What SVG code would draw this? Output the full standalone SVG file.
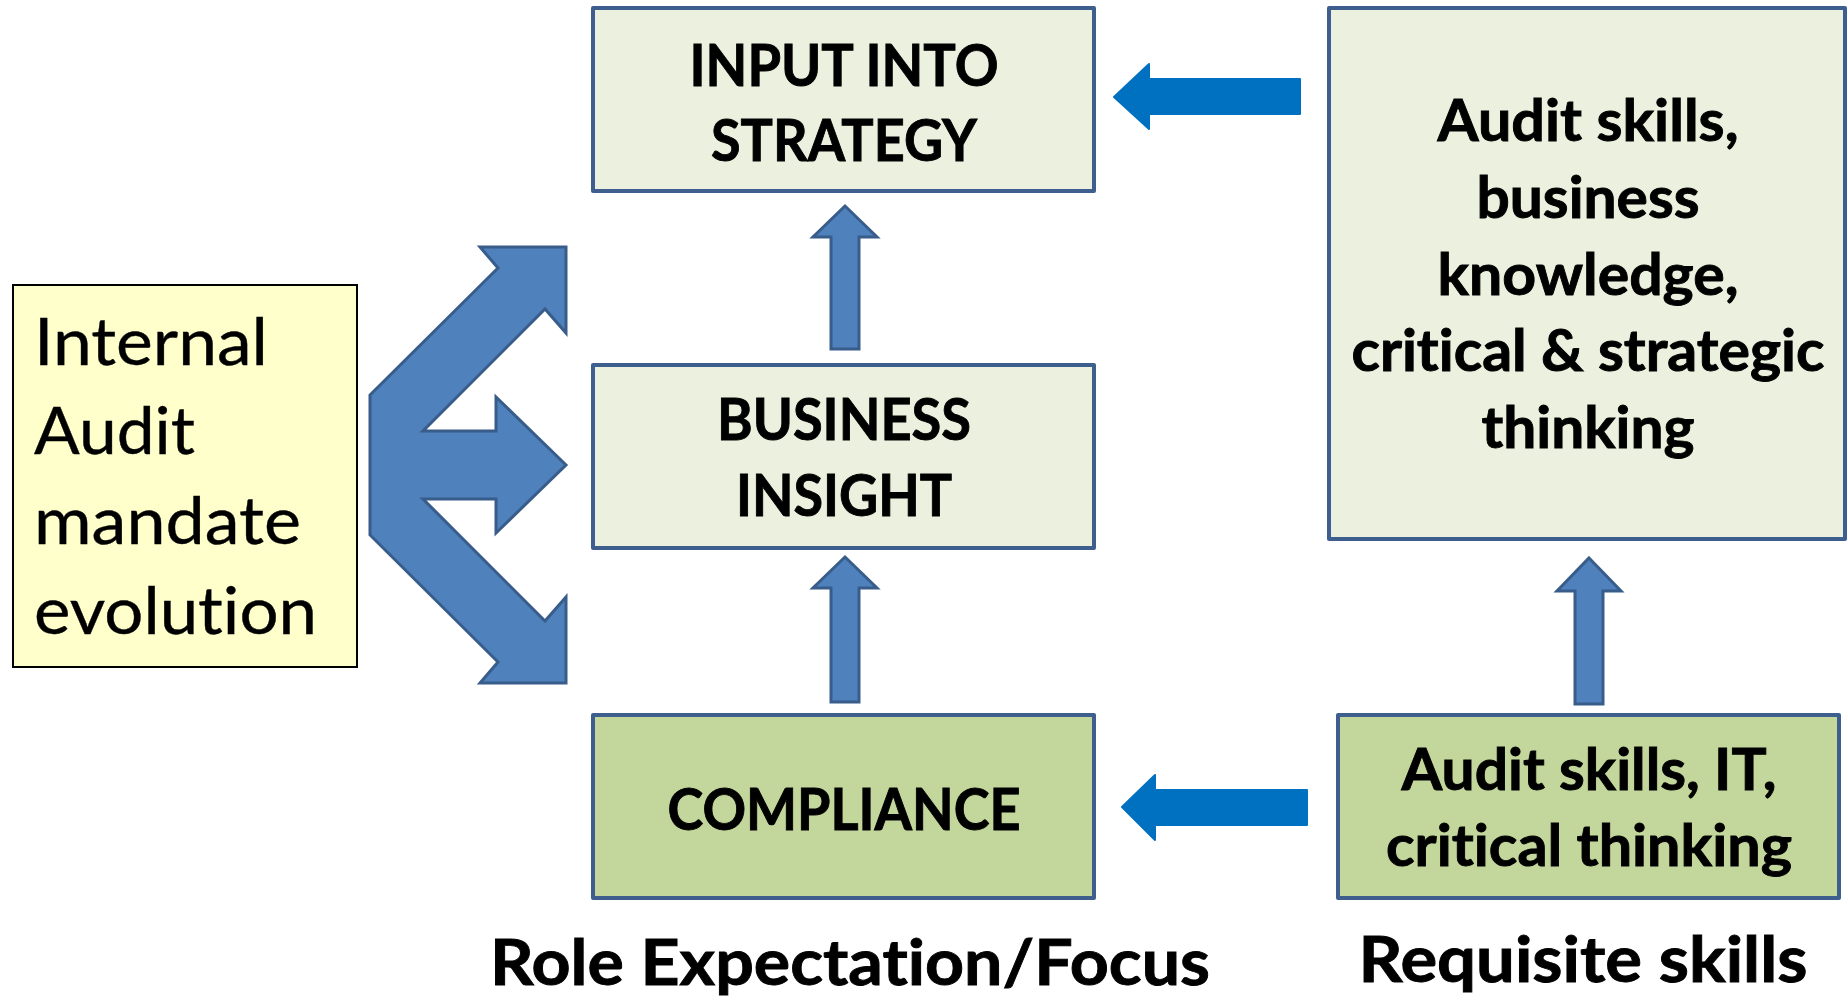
<svg xmlns="http://www.w3.org/2000/svg" width="1848" height="997" viewBox="0 0 1848 997">
  <style>
    .box { stroke: #3E5F8E; stroke-width: 4; stroke-linejoin: round; }
    .pale { fill: #EBF1DE; }
    .green { fill: #C3D69B; }
    .note { fill: #FFFFCC; stroke: #000000; stroke-width: 2; }
    text { font-variant-ligatures: none; font-feature-settings: "liga" 0, "clig" 0; }
    .lbl { font-family: Lato, "Open Sans", "Liberation Sans", sans-serif; font-weight: 700; fill: #000000; stroke: #000000; stroke-width: 0.9; text-anchor: middle; }
    .big { font-size: 57px; }
    .cap { font-size: 64px; }
    .plain { font-family: Lato, "Open Sans", "Liberation Sans", sans-serif; font-weight: 400; font-size: 66px; fill: #000000; stroke: #000000; stroke-width: 0.4; }
    .flow { fill: #4F81BD; stroke: #385D8A; stroke-width: 3; stroke-linejoin: miter; }
    .push { fill: #0070C0; stroke: #0070C0; stroke-width: 2; stroke-linejoin: round; }
  </style>

  <rect width="1848" height="997" fill="#FFFFFF"/>

  <!-- connectors -->
  <g id="connectors">
    <!-- three-way arrow from the mandate box to each role level -->
    <path class="flow" d="M370,395 L498,268 L480,247 L566,247 L566,333 L545,309 L423,431 L496,431 L496,397 L566,465 L496,533 L496,499 L423,499 L545,621 L566,597 L566,683 L480,683 L498,662 L370,535 Z"/>
    <!-- compliance -> business insight -> strategy -->
    <path class="flow" d="M845,206 L877,237 L859,237 L859,349 L831,349 L831,237 L813,237 Z"/>
    <path class="flow" d="M845,557 L877,588 L859,588 L859,702 L831,702 L831,588 L813,588 Z"/>
    <!-- basic skills -> advanced skills -->
    <path class="flow" d="M1589,558 L1621,591 L1603,591 L1603,704 L1575,704 L1575,591 L1557,591 Z"/>
    <!-- skills feeding the role levels -->
    <path class="push" d="M1114,97 L1149,64 L1149,79 L1300,79 L1300,114 L1149,114 L1149,129 Z"/>
    <path class="push" d="M1122,807 L1155,775 L1155,790 L1307,790 L1307,825 L1155,825 L1155,840 Z"/>
  </g>

  <g id="mandate">
    <rect class="note" x="13" y="285" width="344" height="382"/>
    <text class="plain" x="34" y="365" textLength="234" lengthAdjust="spacingAndGlyphs">Internal</text>
    <text class="plain" x="34" y="454" textLength="161" lengthAdjust="spacingAndGlyphs">Audit</text>
    <text class="plain" x="34" y="544" textLength="267" lengthAdjust="spacingAndGlyphs">mandate</text>
    <text class="plain" x="34" y="634" textLength="283" lengthAdjust="spacingAndGlyphs">evolution</text>
  </g>

  <g id="input-into-strategy">
    <rect class="box pale" x="593" y="8" width="501" height="183"/>
    <text class="lbl big" x="844" y="86" textLength="309" lengthAdjust="spacingAndGlyphs">INPUT INTO</text>
    <text class="lbl big" x="844" y="161" textLength="266" lengthAdjust="spacingAndGlyphs">STRATEGY</text>
  </g>

  <g id="business-insight">
    <rect class="box pale" x="593" y="365" width="501" height="183"/>
    <text class="lbl big" x="844" y="440" textLength="254" lengthAdjust="spacingAndGlyphs">BUSINESS</text>
    <text class="lbl big" x="844" y="516" textLength="216" lengthAdjust="spacingAndGlyphs">INSIGHT</text>
  </g>

  <g id="compliance">
    <rect class="box green" x="593" y="715" width="501" height="183"/>
    <text class="lbl big" x="844" y="830" textLength="353" lengthAdjust="spacingAndGlyphs">COMPLIANCE</text>
  </g>

  <g id="advanced-skills">
    <rect class="box pale" x="1329" y="8" width="516" height="531"/>
    <text class="lbl big" x="1588" y="141" textLength="301" lengthAdjust="spacingAndGlyphs">Audit skills,</text>
    <text class="lbl big" x="1588" y="218" textLength="223" lengthAdjust="spacingAndGlyphs">business</text>
    <text class="lbl big" x="1588" y="295" textLength="301" lengthAdjust="spacingAndGlyphs">knowledge,</text>
    <text class="lbl big" x="1588" y="371" textLength="473" lengthAdjust="spacingAndGlyphs">critical &amp; strategic</text>
    <text class="lbl big" x="1588" y="448" textLength="213" lengthAdjust="spacingAndGlyphs">thinking</text>
  </g>

  <g id="basic-skills">
    <rect class="box green" x="1338" y="715" width="501" height="183"/>
    <text class="lbl big" x="1589" y="790" textLength="375" lengthAdjust="spacingAndGlyphs">Audit skills, IT,</text>
    <text class="lbl big" x="1589" y="866" textLength="406" lengthAdjust="spacingAndGlyphs">critical thinking</text>
  </g>

  <g id="column-titles">
    <text class="lbl cap" x="850" y="985" textLength="720" lengthAdjust="spacingAndGlyphs">Role Expectation/Focus</text>
    <text class="lbl cap" x="1583" y="982" textLength="449" lengthAdjust="spacingAndGlyphs">Requisite skills</text>
  </g>
</svg>
